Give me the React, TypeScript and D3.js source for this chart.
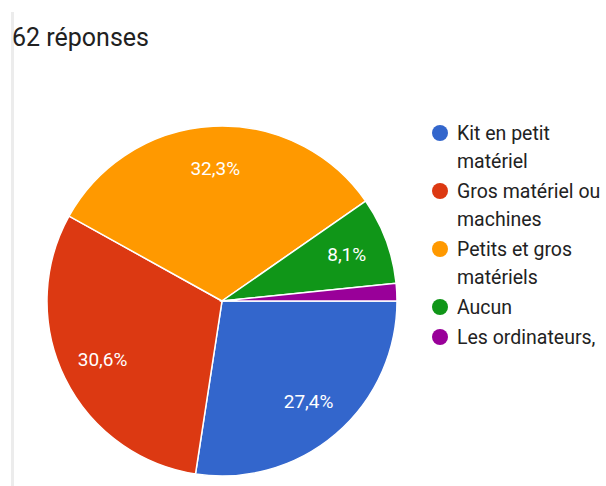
import React from "react";
import * as d3 from "d3";

const categories = [
  "Kit en petit matériel",
  "Gros matériel ou machines",
  "Petits et gros matériels",
  "Aucun",
  "Les ordinateurs,",
];
const legendLines = [
  ["Kit en petit", "matériel"],
  ["Gros matériel ou", "machines"],
  ["Petits et gros", "matériels"],
  ["Aucun"],
  ["Les ordinateurs,"],
];
const counts = [17, 19, 20, 5, 1];
const colors = ["#3366cc", "#dc3912", "#ff9900", "#109618", "#990099"];
const title = "62 réponses";

const W = 606;
const H = 486;
const cx = 222;
const cy = 301;
const R = 175;

export default function App() {
  const total = d3.sum(counts);
  const pie = d3
    .pie<number>()
    .sort(null)
    .startAngle(Math.PI / 2)
    .endAngle(Math.PI / 2 + 2 * Math.PI)
    .value((d) => d);
  const arcs = pie(counts);
  const arc = d3.arc<d3.PieArcDatum<number>>().innerRadius(0).outerRadius(R);
  const labelArc = d3
    .arc<d3.PieArcDatum<number>>()
    .innerRadius(R * 0.76)
    .outerRadius(R * 0.76);

  const fmt = (v: number) => (Math.round((v / total) * 1000) / 10).toFixed(1).replace(".", ",") + "%";

  const lineH = 28;
  const gap = 2;
  let yCursor = 133;
  const legendItems = legendLines.map((lines, i) => {
    const y = yCursor;
    yCursor += lines.length * lineH + gap;
    return { lines, y, color: colors[i], name: categories[i] };
  });

  return (
    <svg
      width={W}
      height={H}
      style={{ position: "absolute", left: 0, top: 0, fontFamily: "Roboto, sans-serif" }}
    >
      <rect x={0} y={0} width={W} height={H} fill="#ffffff" />
      <rect x={11} y={12} width={3} height={H - 12} fill="#ececec" />
      <text x={12} y={46} fontSize={25} fill="#212121">
        {title}
      </text>
      <g transform={`translate(${cx},${cy})`}>
        {arcs.map((a, i) => (
          <path key={i} d={arc(a) || ""} fill={colors[i]} stroke="#ffffff" strokeWidth={1.5} />
        ))}
        {arcs.map((a, i) => {
          const frac = a.value / total;
          if (frac < 0.05) return null;
          const [lx, ly] = labelArc.centroid(a);
          return (
            <text
              key={"l" + i}
              x={lx}
              y={ly}
              textAnchor="middle"
              dominantBaseline="central"
              fontSize={19}
              fill="#ffffff"
            >
              {fmt(a.value)}
            </text>
          );
        })}
      </g>
      <g>
        {legendItems.map((it, i) => (
          <g key={i}>
            <circle cx={440} cy={it.y} r={8} fill={it.color} />
            {it.lines.map((ln, j) => (
              <text key={j} x={457} y={it.y + 7 + j * lineH} fontSize={19.5} fill="#222222">
                {ln}
              </text>
            ))}
          </g>
        ))}
      </g>
    </svg>
  );
}
